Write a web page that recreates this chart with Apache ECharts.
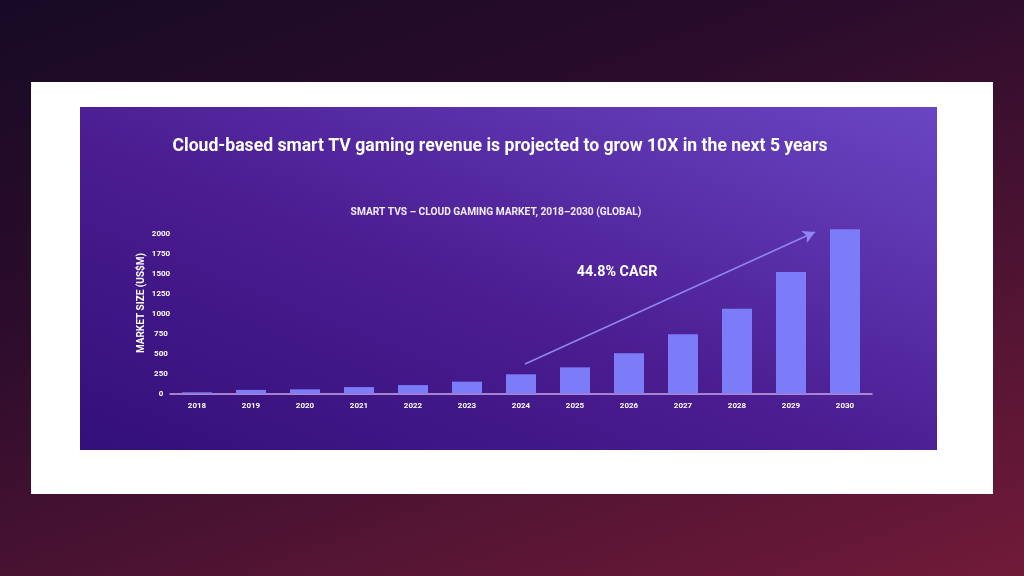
<!DOCTYPE html>
<html lang="en">
<head>
<meta charset="UTF-8">
<title>Smart TVs - Cloud Gaming Market</title>
<script src="https://cdn.jsdelivr.net/npm/echarts@6/dist/echarts.min.js"></script>
<style>
  html, body { margin: 0; padding: 0; }
  body {
    width: 1024px; height: 576px; overflow: hidden; position: relative;
    background: linear-gradient(160deg, #170a26 0%, #2c0c2c 35%, #521433 70%, #701a38 100%);
  }
  #card { position: absolute; left: 31px; top: 82px; width: 962px; height: 412px; background: #ffffff; }
  #panel {
    position: absolute; left: 80px; top: 107px; width: 857px; height: 343px;
    background: linear-gradient(to top right, #33107a 0%, #4a1c90 45%, #6a46c4 100%);
  }
  #main { position: absolute; left: 0; top: 0; width: 1024px; height: 576px; }
</style>
</head>
<body>
<div id="card"></div>
<div id="panel"></div>
<div id="main"></div>
<script type="text/javascript">
// data
var years = ['2018', '2019', '2020', '2021', '2022', '2023', '2024', '2025', '2026', '2027', '2028', '2029', '2030'];
var marketSize = [15, 45, 52, 80, 105, 148, 240, 327, 502, 740, 1058, 1520, 2054];

var chart = echarts.init(document.getElementById('main'), null, { renderer: 'canvas' });
var font = 'Roboto, "Noto Sans", sans-serif';

chart.setOption({
  backgroundColor: 'transparent',
  animation: false,
  title: [{
    text: 'Cloud-based smart TV gaming revenue is projected to grow 10X in the next 5 years',
    left: 495, top: 133, textAlign: 'center',
    textStyle: { color: '#ffffff', fontFamily: font, fontWeight: 'bold', fontSize: 17.6 }
  }, {
    text: 'SMART TVS – CLOUD GAMING MARKET, 2018–2030 (GLOBAL)',
    left: 491, top: 202, textAlign: 'center',
    textStyle: { color: '#f1ebff', fontFamily: font, fontWeight: 'bold', fontSize: 10.2 }
  }, {
    text: '44.8% CAGR',
    left: 612, top: 260, textAlign: 'center',
    textStyle: { color: '#ffffff', fontFamily: font, fontWeight: 'bold', fontSize: 14.3 }
  }],
  // y axis title, sits a bit above the middle of the axis like in the picture
  graphic: [{
    type: 'text',
    x: 141, y: 303,
    rotation: Math.PI / 2,
    style: {
      text: 'MARKET SIZE (US$M)',
      fill: '#ffffff',
      font: 'bold 10px Roboto, "Noto Sans", sans-serif',
      align: 'center',
      verticalAlign: 'middle'
    }
  }],
  grid: { left: 170, right: 152, top: 233.5, bottom: 182.5, containLabel: false },
  xAxis: {
    type: 'category',
    data: years,
    axisLine: { lineStyle: { color: '#c6a6e6', width: 1.5 } },
    axisTick: { show: false },
    axisLabel: { color: '#ffffff', fontFamily: font, fontWeight: 'bold', fontSize: 8, margin: 8 }
  },
  yAxis: {
    type: 'value',
    min: 0, max: 2000, interval: 250,
    axisLine: { show: false },
    axisTick: { show: false },
    splitLine: { show: false },
    axisLabel: {
      color: '#ffffff', fontFamily: font, fontWeight: 'bold', fontSize: 8, margin: 9, align: 'center',
      formatter: function (v) { return String(v); }
    }
  },
  series: [{
    name: 'Market size',
    type: 'bar',
    data: marketSize,
    barWidth: 30,
    clip: false,
    itemStyle: { color: '#7c7bf8' },
    markLine: {
      silent: true,
      symbol: ['none', 'arrow'],
      symbolSize: [10, 12],
      label: { show: false },
      lineStyle: { color: '#8f86f2', width: 1.5, type: 'solid' },
      data: [[{ x: 525, y: 364 }, { x: 815, y: 232 }]]
    }
  }]
});
</script>
</body>
</html>
